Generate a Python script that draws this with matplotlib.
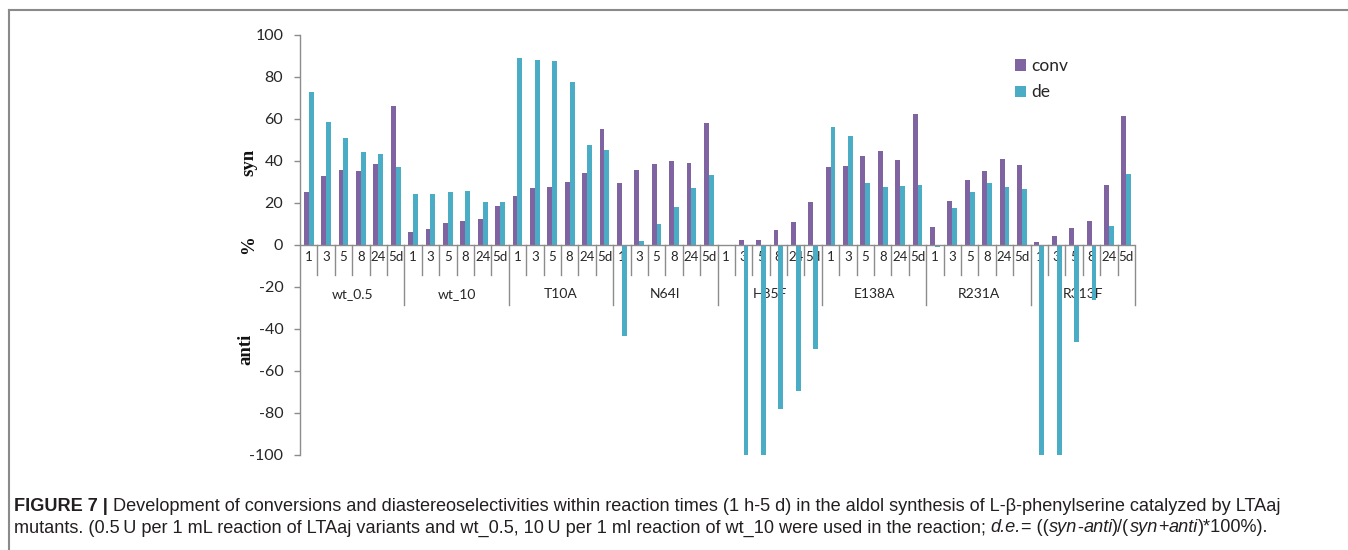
import matplotlib
matplotlib.use('Agg')
import matplotlib.pyplot as plt
from matplotlib.lines import Line2D

groups = ['wt_0.5', 'wt_10', 'T10A', 'N64I', 'H85F', 'E138A', 'R231A', 'R313F']
times = ['1', '3', '5', '8', '24', '5d']

conv_wt05 = [25.4, 33.0, 35.9, 35.2, 38.4, 66.0]
conv_wt10 = [6.0, 7.6, 10.3, 11.4, 12.2, 18.6]
conv_T10A = [23.2, 27.1, 27.5, 30.0, 34.4, 55.2]
conv_N64I = [29.5, 35.9, 38.7, 40.0, 39.0, 58.1]
conv_H85F = [0.0, 2.5, 2.5, 7.0, 10.8, 20.6]
conv_E138A = [37.1, 37.6, 42.2, 44.9, 40.5, 62.2]
conv_R231A = [8.7, 20.8, 31.0, 35.2, 41.1, 37.9]
conv_R313F = [1.3, 4.3, 7.9, 11.3, 28.7, 61.3]

de_wt05 = [72.7, 58.7, 50.8, 44.4, 43.2, 37.1]
de_wt10 = [24.1, 24.1, 25.1, 25.7, 20.6, 20.6]
de_T10A = [88.9, 87.9, 87.6, 77.5, 47.6, 45.2]
de_N64I = [-43.2, 2.1, 10.2, 18.1, 27.0, 33.2]
de_H85F = [0.0, -100.0, -100.0, -78.2, -69.7, -49.7]
de_E138A = [56.3, 51.7, 29.4, 27.6, 28.1, 28.7]
de_R231A = [-0.8, 17.8, 25.1, 29.4, 27.8, 26.7]
de_R313F = [-100.0, -100.0, -46.0, -26.0, 8.9, 34.0]

conv = conv_wt05 + conv_wt10 + conv_T10A + conv_N64I + conv_H85F + conv_E138A + conv_R231A + conv_R313F
de = de_wt05 + de_wt10 + de_T10A + de_N64I + de_H85F + de_E138A + de_R231A + de_R313F

yticks = [-100, -80, -60, -40, -20, 0, 20, 40, 60, 80, 100]

C_CONV = '#8064A2'
C_DE = '#4BACC6'
GRAY = '#8c8c8c'
TXT = '#262626'
CHART_FONT = ['Lato', 'DejaVu Sans']

W, H = 1348, 550
fig = plt.figure(figsize=(W / 100, H / 100), dpi=100)


def px(x0, y0, x1, y1):
    return [x0 / W, 1 - y1 / H, (x1 - x0) / W, (y1 - y0) / H]


ax = fig.add_axes(px(300, 35, 1135, 455))
n = len(conv)
xs = [i + 0.5 for i in range(n)]
bw = 0.28
b1 = ax.bar([x - bw / 2 for x in xs], conv, width=bw, color=C_CONV, zorder=3, label='conv')
b2 = ax.bar([x + bw / 2 for x in xs], de, width=bw, color=C_DE, zorder=3, label='de')

ax.set_xlim(0, n)
ax.set_ylim(-100, 100)
ax.set_yticks(yticks)
ax.set_yticklabels([str(v) for v in yticks], fontfamily=CHART_FONT, fontsize=11.5, color=TXT)
ax.tick_params(axis='y', direction='out', length=4, width=1, color=GRAY, pad=8)
ax.set_xticks([])
for s in ['top', 'right', 'bottom']:
    ax.spines[s].set_visible(False)
ax.spines['left'].set_color(GRAY)
ax.spines['left'].set_linewidth(1)
ax.axhline(0, color=GRAY, lw=1, zorder=4)

# category dividers and labels
cat_len = 14.3
grp_len = 28.6
for k in range(1, n + 1):
    L = grp_len if k % len(times) == 0 else cat_len
    ax.plot([k, k], [0, -L], color=GRAY, lw=1, clip_on=False, zorder=2)
for i in range(n):
    ax.text(i + 0.5, -5.8, times[i % len(times)], ha='center', va='center',
            fontfamily=CHART_FONT, fontsize=9.5, color=TXT, zorder=1)
for g, name in enumerate(groups):
    ax.text(g * len(times) + len(times) / 2, -23.3, name, ha='center', va='center',
            fontfamily=CHART_FONT, fontsize=10, color=TXT, zorder=1)

leg = ax.legend(handles=[b1, b2], labels=['conv', 'de'], loc='upper left',
                bbox_to_anchor=(1015 / W, 1 - 58 / H), bbox_transform=fig.transFigure,
                frameon=False, prop={'family': CHART_FONT, 'size': 12.5},
                handlelength=0.62, handleheight=0.62, handletextpad=0.3,
                labelspacing=0.6, borderpad=0, borderaxespad=0)
for t in leg.get_texts():
    t.set_color(TXT)

# y axis labels
serif = ['Liberation Serif', 'DejaVu Serif']
fig.text(249 / W, 1 - 162 / H, 'syn', rotation=90, ha='center', va='center',
         fontfamily=serif, fontweight='bold', fontsize=13.5, color='#111111')
fig.text(249 / W, 1 - 245 / H, '%', rotation=90, ha='center', va='center',
         fontfamily=serif, fontweight='bold', fontsize=13.5, color='#111111')
fig.text(246 / W, 1 - 349 / H, 'anti', rotation=90, ha='center', va='center',
         fontfamily=serif, fontweight='bold', fontsize=13.5, color='#111111')

# frame
fig.add_artist(Line2D([9 / W, 1.0], [1 - 10 / H, 1 - 10 / H], transform=fig.transFigure,
                      color='#8a8a8a', lw=1.5))
fig.add_artist(Line2D([9 / W, 9 / W], [0, 1 - 10 / H], transform=fig.transFigure,
                      color='#8a8a8a', lw=1.5))

# caption
CAP = ['Liberation Sans', 'DejaVu Sans']
CAPC = '#231f20'
cap_size = 13.1
fig.canvas.draw()
rend = fig.canvas.get_renderer()


def runs(x, y, parts):
    for s, kw in parts:
        t = fig.text(x / W, 1 - y / H, s, fontsize=cap_size, va='baseline', ha='left',
                     fontfamily=CAP, color=CAPC, **kw)
        bb = t.get_window_extent(renderer=rend)
        x += bb.width


runs(14, 511, [
    ('FIGURE 7 | ', {'fontweight': 'bold'}),
    ('Development of conversions and diastereoselectivities within reaction times (1 h-5 d) in the aldol synthesis of L-\u03b2-phenylserine catalyzed by LTAaj', {}),
])
runs(14, 532.5, [
    ('mutants. (0.5\u2009U per 1 mL reaction of LTAaj variants and wt_0.5, 10\u2009U per 1 ml reaction of wt_10 were used in the reaction; ', {}),
    ('d.e.', {'fontstyle': 'italic'}),
    ('= ((', {}),
    ('syn', {'fontstyle': 'italic'}),
    ('-', {}),
    ('anti', {'fontstyle': 'italic'}),
    (')/(', {}),
    ('syn', {'fontstyle': 'italic'}),
    ('+', {}),
    ('anti', {'fontstyle': 'italic'}),
    (')*100%).', {}),
])

fig.savefig('out.png', dpi=100)
